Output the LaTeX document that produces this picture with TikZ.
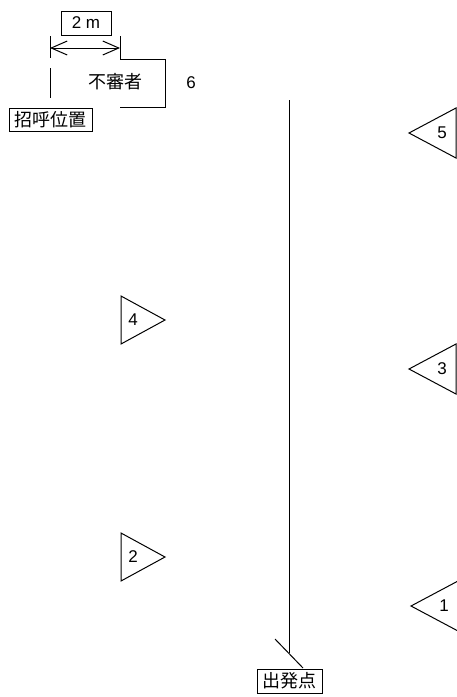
\documentclass[tikz,border=0pt]{standalone}
\usepackage{fontspec}
\setmainfont{Liberation Sans}
\newfontfamily\jpfont{Noto Sans CJK JP}
\usetikzlibrary{arrows.meta,calc}

\begin{document}
\begin{tikzpicture}[x=1pt, y=-1pt, line width=1pt,
    font=\fontsize{17}{19}\selectfont,
    jp/.style={font=\jpfont\fontsize{18}{20}\selectfont},
    labelbox/.style={draw, inner sep=0pt, minimum height=24pt}]
  \useasboundingbox (0,0) rectangle (457,697);
  % distance to the non-judge
  \node[labelbox, minimum width=50pt] (dist) at (86,23) {2 m};
  \coordinate (tickl) at (50,48);
  \coordinate (tickr) at (120,48);
  \draw (50,36) -- (50,58);
  \draw (120,36) -- (120,59) -- (165,59) -- (165,107) -- (120,107);
  \draw[{Straight Barb[length=16pt,width=14pt]}-{Straight Barb[length=16pt,width=14pt]}]
    (tickl) -- (tickr);
  \draw (50,68) -- (50,98);
  \node[jp] (judge) at (115,82) {不審者};
  \node (six) at (191,83) {6};
  \node[labelbox, jp, minimum width=83pt, minimum height=23pt] (call) at (50.5,119.5) {招呼位置};
  % course
  \node[labelbox, jp, minimum width=65pt] (start) at (289.5,681) {出発点};
  \coordinate (top) at (289,100);
  \coordinate (bottom) at (289,653);
  \draw (top) -- (bottom);
  \draw ($(bottom)+(-14,-14)$) -- ($(bottom)+(14,15)$);
  % cones
  \foreach \x/\y/\n in {409/133/5, 409/369/3, 411/606/1} {
    \draw (\x,\y) -- ++(47,-25) -- ++(0,50) -- cycle;
    \node (cone\n) at (\x+33,\y) {\n};
  }
  \foreach \y/\n in {320/4, 557/2} {
    \draw (121,\y-24) -- (165,\y) -- (121,\y+24) -- cycle;
    \node (cone\n) at (133,\y) {\n};
  }
\end{tikzpicture}
\end{document}
